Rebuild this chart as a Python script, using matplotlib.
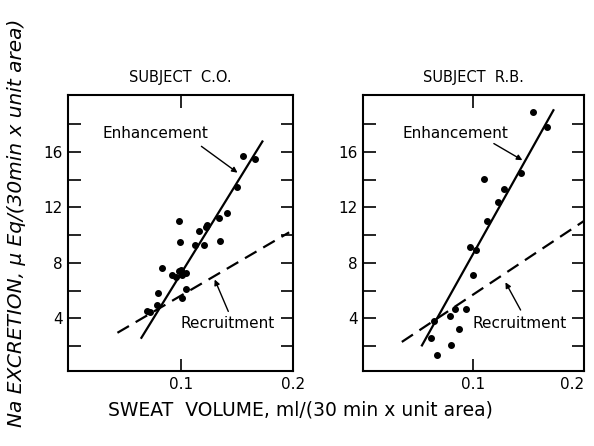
import matplotlib
matplotlib.use("Agg")
import matplotlib.pyplot as plt
import numpy as np

# subject C.O. data points
co_x = [0.1555, 0.1657, 0.150, 0.1343, 0.141, 0.1236, 0.1227, 0.1167, 0.0985,
        0.0994, 0.113, 0.121, 0.1348, 0.0833, 0.0924, 0.0955, 0.0985, 0.100,
        0.1045, 0.1015, 0.1045, 0.1015, 0.080, 0.0788, 0.0727, 0.0705]
co_y = [15.7, 15.5, 13.5, 11.2, 11.6, 10.75, 10.6, 10.3, 11.05,
        9.5, 9.3, 9.3, 9.6, 7.6, 7.15, 7.0, 7.4, 7.5,
        7.3, 7.15, 6.1, 5.5, 5.8, 4.95, 4.45, 4.5]
co_enh_x = [0.0652, 0.1727]
co_enh_y = [2.6, 16.75]
co_rec_x = [0.0439, 0.1965]
co_rec_y = [2.96, 10.2]

# subject R.B. data points
rb_x = [0.1543, 0.1664, 0.1427, 0.110, 0.1276, 0.122, 0.1124, 0.0973, 0.1027,
        0.0994, 0.0936, 0.0836, 0.079, 0.0639, 0.0873, 0.0615, 0.080, 0.067]
rb_y = [18.85, 17.8, 14.5, 14.05, 13.3, 12.4, 11.05, 9.15, 8.9,
        7.1, 4.65, 4.7, 4.2, 3.8, 3.25, 2.55, 2.05, 1.35]
rb_enh_x = [0.0534, 0.1724]
rb_enh_y = [2.05, 19.0]
rb_rec_x = [0.0352, 0.1997]
rb_rec_y = [2.3, 11.0]

fig = plt.figure(figsize=(5.94, 4.46), dpi=100)
ax1 = fig.add_axes([0.1145, 0.168, 0.379, 0.619])
ax2 = fig.add_axes([0.611, 0.168, 0.372, 0.619])


def setup(ax, title):
    ax.set_xlim(0, 0.2)
    ax.set_ylim(0.2, 20.1)
    ax.set_xticks([0.1, 0.2])
    ax.set_xticklabels(["0.1", "0.2"], fontsize=11)
    ax.set_yticks([4, 8, 12, 16])
    ax.set_yticklabels(["4", "8", "12", "16"], fontsize=11)
    ax.set_yticks([2, 6, 10, 14, 18], minor=True)
    ax.tick_params(which="both", direction="in", top=True, right=True,
                   length=9, width=1.2, pad=4)
    for s in ax.spines.values():
        s.set_linewidth(1.5)
    ax.set_title(title, fontsize=10.5, pad=9)


setup(ax1, "SUBJECT  C.O.")
setup(ax2, "SUBJECT  R.B.")
# keep the last label of the right panel inside the picture
ax2.get_xticklabels()[-1].set_horizontalalignment("right")

ax1.plot(co_x, co_y, "o", color="black", markersize=4)
ax1.plot(co_enh_x, co_enh_y, "-", color="black", lw=1.6)
ax1.plot(co_rec_x, co_rec_y, "--", color="black", lw=1.6, dashes=(6, 3.5))

ax2.plot(rb_x, rb_y, "o", color="black", markersize=4)
ax2.plot(rb_enh_x, rb_enh_y, "-", color="black", lw=1.6)
ax2.plot(rb_rec_x, rb_rec_y, "--", color="black", lw=1.6, dashes=(6, 3.5))

arrow = dict(arrowstyle="-|>", color="black", lw=1.0, mutation_scale=8,
             shrinkA=0, shrinkB=0)

ax1.text(0.031, 17.3, "Enhancement", fontsize=11, va="center")
ax1.annotate("", xy=(0.1506, 14.5), xytext=(0.1185, 16.4), arrowprops=arrow)
ax1.text(0.1, 3.6, "Recruitment", fontsize=11, va="center")
ax1.annotate("", xy=(0.1303, 6.8), xytext=(0.1424, 4.5), arrowprops=arrow)

ax2.text(0.036, 17.3, "Enhancement", fontsize=11, va="center")
ax2.annotate("", xy=(0.1443, 15.4), xytext=(0.1185, 16.6), arrowprops=arrow)
ax2.text(0.099, 3.6, "Recruitment", fontsize=11, va="center")
ax2.annotate("", xy=(0.129, 6.6), xytext=(0.1427, 4.6), arrowprops=arrow)

fig.text(0.505, 0.08, "SWEAT  VOLUME, ml/(30 min x unit area)", fontsize=13.5,
         ha="center", va="center")
fig.text(0.027, 0.5, "Na EXCRETION, \u03bc Eq/(30min x unit area)", fontsize=14.5,
         style="italic", rotation=90, ha="center", va="center")

fig.savefig("out.png", dpi=100)
